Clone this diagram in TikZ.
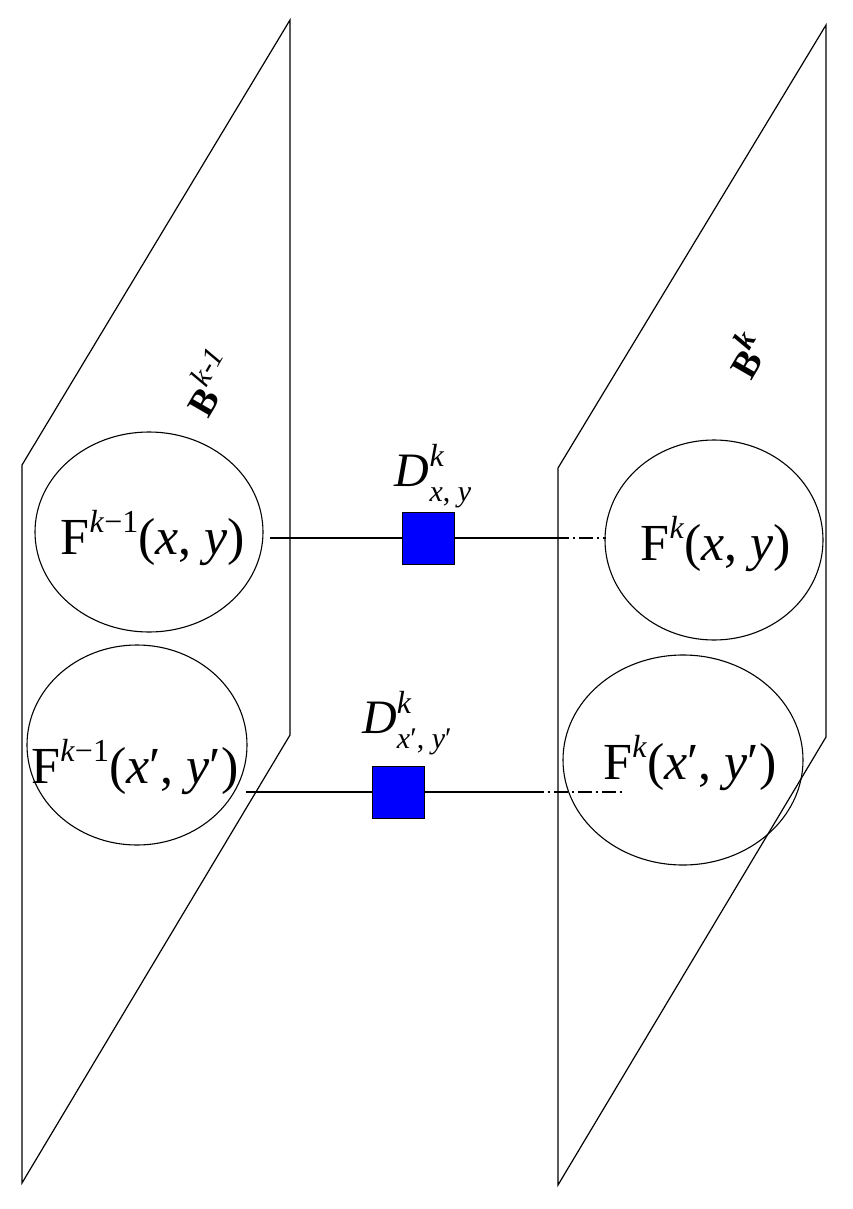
\documentclass[tikz,border=0pt]{standalone}
\usepackage{fontspec}
\setmainfont{Liberation Serif}
\newcommand{\vi}[1]{\textit{#1}}
\newcommand{\sps}[1]{\raisebox{0.42em}{\fontsize{32}{32}\selectfont #1}}
\newcommand{\sbs}[1]{\raisebox{-0.3em}{\fontsize{30}{30}\selectfont #1}}
\begin{document}
\begin{tikzpicture}[x=1pt,y=-1pt,
  pl/.style={draw=black,line width=1.2pt},
  cir/.style={draw=black,line width=1.1pt},
  sq/.style={draw=black,fill=blue,minimum size=52pt,inner sep=0pt,line width=1pt},
  ln/.style={line width=1.1pt},
  dd/.style={line width=1.1pt,dash pattern=on 14pt off 4pt on 2pt off 4pt},
  lab/.style={font=\fontsize{52}{52}\selectfont,inner sep=0pt}]
\useasboundingbox (0,0) rectangle (852,1209);
\draw[pl] (22,465) -- (290,20) -- (290,735) -- (22,1183) -- cycle;
\draw[pl] (558,468) -- (826,25) -- (826,737) -- (558,1185) -- cycle;
\draw[cir] (149,532) ellipse [x radius=114, y radius=100];
\draw[cir] (137,745) ellipse [x radius=110, y radius=100];
\draw[cir] (714,540) ellipse [x radius=109, y radius=100];
\draw[cir] (683,760) ellipse [x radius=120, y radius=105];
\node[lab] (f1) at (153,538) {F\sps{\vi{k}−1}(\vi{x}, \vi{y})};
\node[lab] (f2) at (135,767) {F\sps{\vi{k}−1}(\vi{x}′, \vi{y}′)};
\node[lab] (f3) at (716,544) {F\sps{\vi{k}}(\vi{x}, \vi{y})};
\node[lab] (f4) at (690,763) {F\sps{\vi{k}}(\vi{x}′, \vi{y}′)};
\node[sq] (s1) at (428,538) {};
\node[sq] (s2) at (398,792) {};
\coordinate (a1) at (270,538); \coordinate (b1) at (555,538); \coordinate (c1) at (606,538);
\coordinate (a2) at (246,792); \coordinate (b2) at (530,792); \coordinate (c2) at (625,792);
\draw[ln] (a1) -- (s1.west); \draw[ln] (s1.east) -- (b1); \draw[dd] (b1) -- (c1);
\draw[ln] (a2) -- (s2.west); \draw[ln] (s2.east) -- (b2); \draw[dd] (b2) -- (c2);
\node[lab,font=\fontsize{48}{48}\selectfont] (d1) at (433,476) {\vi{D}\rlap{\sps{\vi{k}}}\sbs{\vi{x}, \vi{y}}};
\node[lab,font=\fontsize{48}{48}\selectfont] (d2) at (407,723) {\vi{D}\rlap{\sps{\vi{k}}}\sbs{\vi{x}′, \vi{y}′}};
\node[font=\fontsize{38}{38}\selectfont\bfseries,rotate=60,inner sep=0pt] (bk1) at (208,382) {B\raisebox{0.45em}{\fontsize{30}{30}\selectfont\itshape\mdseries k-1}};
\node[font=\fontsize{38}{38}\selectfont\bfseries,rotate=60,inner sep=0pt] (bk) at (745,355) {B\raisebox{0.45em}{\fontsize{30}{30}\selectfont\itshape k}};
\end{tikzpicture}
\end{document}
